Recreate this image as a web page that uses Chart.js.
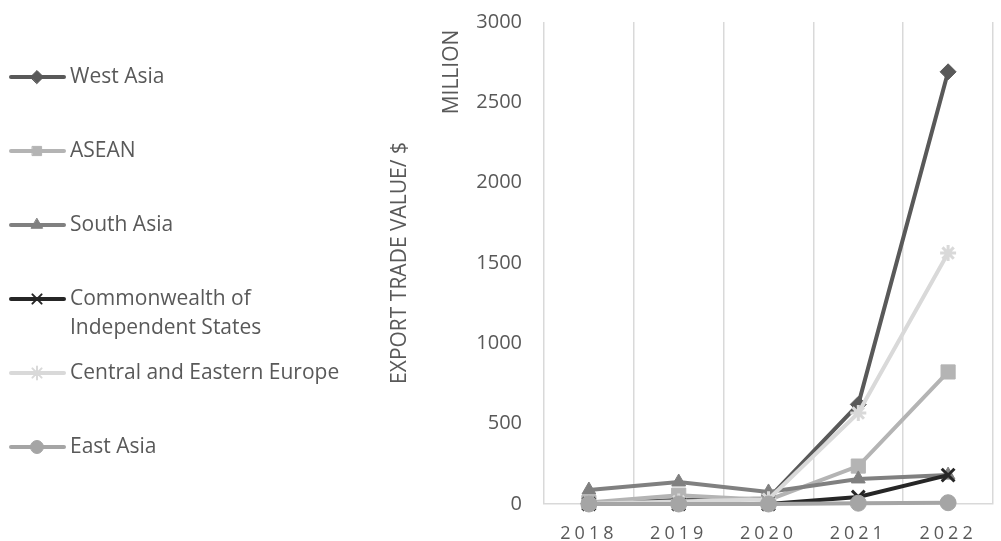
<!DOCTYPE html>
<html>
<head>
<meta charset="utf-8">
<script src="https://cdn.jsdelivr.net/npm/chart.js"></script>
<style>
  html, body { margin: 0; padding: 0; background: #fff; overflow: hidden; }
</style>
</head>
<body>
<canvas id="lineChart" width="1005" height="541"></canvas>
<script>
// Chart data
var years = ["2018", "2019", "2020", "2021", "2022"];
var seriesNames = ["West Asia", "ASEAN", "South Asia", "Commonwealth of Independent States", "Central and Eastern Europe", "East Asia"];
var westAsia = [5, 25, 35, 620, 2690];
var asean = [10, 55, 25, 236, 822];
var southAsia = [87, 137, 75, 156, 180];
var cis = [0, 0, 0, 44, 180];
var centralEasternEurope = [2, 15, 30, 566, 1562];
var eastAsia = [0, 0, 0, 5, 8];
var yTicks = [0, 500, 1000, 1500, 2000, 2500, 3000];
var axisTitle = ["EXPORT TRADE VALUE/ $", "MILLION"];

var seriesValues = [westAsia, asean, southAsia, cis, centralEasternEurope, eastAsia];
var seriesColors = ["#595959", "#b4b4b4", "#808080", "#262626", "#d9d9d9", "#a5a5a5"];
var seriesMarkers = ["rectRot", "rect", "triangle", "crossRot", "star", "circle"];
var markerSizes = [8, 10, 8, 9, 8, 8];

var textColor = "#595959";
var fontName = '"Open Sans", "Noto Sans", sans-serif';

// legend on the left, line + marker like the spreadsheet one
var sideLegend = {
  id: 'sideLegend',
  afterDraw: function (chart) {
    var ctx = chart.ctx;
    ctx.save();
    ctx.font = '21px ' + fontName;
    ctx.textBaseline = 'middle';
    ctx.textAlign = 'left';
    chart.data.datasets.forEach(function (ds, i) {
      var y = 77 + i * 74;
      ctx.strokeStyle = ds.borderColor;
      ctx.lineWidth = 4;
      ctx.lineCap = 'round';
      ctx.beginPath();
      ctx.moveTo(11, y);
      ctx.lineTo(64, y);
      ctx.stroke();
      ctx.fillStyle = ds.borderColor;
      ctx.lineWidth = (ds.pointStyle === 'crossRot' || ds.pointStyle === 'star') ? 2 : 1;
      Chart.helpers.drawPoint(ctx, { pointStyle: ds.pointStyle, radius: 6.5, rotation: 0, borderWidth: ctx.lineWidth }, 37, y);

      // simple word wrap
      var words = ds.label.split(' ');
      var lines = [];
      var cur = '';
      words.forEach(function (w) {
        var test = cur ? cur + ' ' + w : w;
        if (ctx.measureText(test).width > 285 && cur) {
          lines.push(cur);
          cur = w;
        } else {
          cur = test;
        }
      });
      lines.push(cur);
      ctx.fillStyle = textColor;
      lines.forEach(function (t, j) {
        ctx.fillText(t, 70, y + j * 29);
      });
    });
    ctx.restore();
  }
};

// rotated two-line axis title
var yTitle = {
  id: 'yTitle',
  afterDraw: function (chart) {
    var ctx = chart.ctx;
    var area = chart.chartArea;
    ctx.save();
    ctx.font = '21px ' + fontName;
    ctx.fillStyle = textColor;
    ctx.textBaseline = 'middle';
    ctx.textAlign = 'center';
    ctx.translate(400, (area.top + area.bottom) / 2);
    ctx.rotate(-Math.PI / 2);
    ctx.fillText(axisTitle[0], 0, 0);
    ctx.restore();
    ctx.save();
    ctx.font = '21px ' + fontName;
    ctx.fillStyle = textColor;
    ctx.textBaseline = 'middle';
    ctx.textAlign = 'center';
    ctx.translate(452, 72);
    ctx.rotate(-Math.PI / 2);
    ctx.fillText(axisTitle[1], 0, 0);
    ctx.restore();
  }
};

// spaced-out year labels
var spacedLabels = {
  id: 'spacedLabels',
  beforeDraw: function (chart) {
    var xs = chart.scales.x;
    if (xs && !xs._spaced) {
      var orig = xs.drawLabels;
      xs.drawLabels = function (area) {
        var ctx = this.ctx;
        ctx.save();
        ctx.letterSpacing = '4px';
        orig.call(this, area);
        ctx.restore();
      };
      xs._spaced = true;
    }
  }
};

var datasets = seriesNames.map(function (name, i) {
  var isLineMarker = seriesMarkers[i] === 'crossRot' || seriesMarkers[i] === 'star';
  return {
    label: name,
    data: seriesValues[i],
    borderColor: seriesColors[i],
    backgroundColor: seriesColors[i],
    pointBackgroundColor: seriesColors[i],
    pointBorderColor: seriesColors[i],
    pointStyle: seriesMarkers[i],
    pointRadius: markerSizes[i],
    pointBorderWidth: isLineMarker ? 3 : 1,
    borderWidth: 4,
    tension: 0,
    fill: false,
    clip: false,
    order: seriesNames.length - i
  };
});

var myLineChart = new Chart(document.getElementById('lineChart'), {
  type: 'line',
  data: { labels: years, datasets: datasets },
  options: {
    responsive: false,
    animation: false,
    layout: { padding: { top: 22, right: 1, bottom: 0, left: 0 } },
    plugins: {
      legend: { display: false },
      tooltip: { enabled: false }
    },
    scales: {
      x: {
        offset: true,
        grid: { offset: true, color: '#d9d9d9', lineWidth: 1.5, drawTicks: false },
        border: { display: true, color: '#d9d9d9', width: 1.5 },
        ticks: { color: textColor, font: { family: fontName, size: 18 }, padding: 19 },
        afterFit: function (scale) { scale.height = 37; }
      },
      y: {
        min: 0,
        max: 3000,
        grid: { display: false, drawTicks: false },
        border: { display: false },
        ticks: {
          color: textColor,
          font: { family: fontName, size: 20 },
          padding: 22,
          callback: function (v) { return String(v); }
        },
        afterBuildTicks: function (scale) {
          scale.ticks = yTicks.map(function (v) { return { value: v }; });
        },
        afterFit: function (scale) {
          scale.width = 544;
          scale.paddingTop = 0;
          scale.paddingBottom = 0;
        }
      }
    }
  },
  plugins: [spacedLabels, sideLegend, yTitle]
});
</script>
</body>
</html>
